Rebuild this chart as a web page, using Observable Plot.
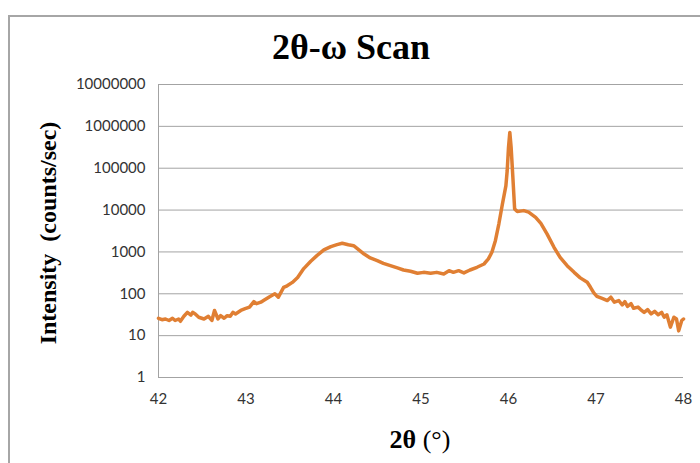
<!DOCTYPE html>
<html>
<head>
<meta charset="utf-8">
<script src="https://cdn.jsdelivr.net/npm/d3@7"></script>
<script src="https://cdn.jsdelivr.net/npm/@observablehq/plot@0.6"></script>
<style>
  html, body { margin: 0; padding: 0; background: #fff; }
  #wrap { position: relative; width: 700px; height: 463px; overflow: hidden; background: #fff; }
  #frame { position: absolute; left: 8px; top: 15px; width: 740px; height: 500px; border: 2px solid #a6a6a6; box-sizing: border-box; }
  #chart { position: absolute; left: 0; top: 0; }
  .serif { font-family: "Liberation Serif", "Times New Roman", serif; color: #000; white-space: nowrap; position: absolute; line-height: 1; }
  #title { font-size: 36px; font-weight: bold; left: 351px; top: 29px; transform: translateX(-50%); }
  #ylab { font-size: 24px; font-weight: bold; left: 48px; top: 233px; transform: translate(-50%, -50%) rotate(-90deg); }
  #xlab { font-size: 26px; left: 420px; top: 440px; transform: translate(-50%, -50%); }
</style>
</head>
<body>
<div id="wrap">
  <div id="frame"></div>
  <div id="chart"></div>
  <div id="title" class="serif">2θ-ω Scan</div>
  <div id="ylab" class="serif">Intensity&nbsp;&nbsp;(counts/sec)</div>
  <div id="xlab" class="serif"><b>2θ</b> (°)</div>
</div>
<script>
const twoTheta = [
  42.00, 42.04, 42.08, 42.12, 42.16, 42.19, 42.23, 42.25, 42.29, 42.33,
  42.37, 42.39, 42.42, 42.46, 42.52, 42.57, 42.61, 42.64, 42.68, 42.71,
  42.75, 42.785, 42.82, 42.85, 42.88, 42.94, 42.99, 43.04, 43.09, 43.12,
  43.17, 43.20, 43.27, 43.33, 43.37, 43.43, 43.47, 43.53, 43.59, 43.66,
  43.74, 43.81, 43.89, 43.97, 44.04, 44.10, 44.17, 44.23, 44.29, 44.35,
  44.42, 44.50, 44.57, 44.65, 44.73, 44.80, 44.88, 44.96, 45.03, 45.11,
  45.18, 45.26, 45.32, 45.37, 45.43, 45.49, 45.56, 45.64, 45.72, 45.77,
  45.81, 45.85, 45.89, 45.93, 45.97, 45.985, 46.00, 46.015, 46.03, 46.05,
  46.07, 46.10, 46.175, 46.23, 46.31, 46.37, 46.44, 46.52, 46.59, 46.67,
  46.75, 46.82, 46.90, 46.937, 46.975, 47.01, 47.07, 47.13, 47.17, 47.21,
  47.26, 47.30, 47.33, 47.36, 47.40, 47.43, 47.48, 47.51, 47.55, 47.59,
  47.63, 47.67, 47.71, 47.75, 47.78, 47.81, 47.85, 47.89, 47.92, 47.945,
  47.98, 48.00
];
const intensity = [
  26, 24, 25, 23, 26, 23, 25, 22, 29, 36,
  31, 36, 33, 27.5, 25, 29, 23, 40, 25, 30,
  26, 30, 29, 36, 33, 40, 44, 48, 65, 58,
  63, 69, 85, 100, 83, 142, 155, 187, 245, 400,
  600, 815, 1120, 1340, 1490, 1610, 1490, 1410, 1120, 890,
  720, 620, 535, 470, 415, 370, 345, 310, 325, 310,
  325, 298, 356, 325, 356, 315, 370, 430, 515, 680,
  980, 1860, 4700, 13800, 38000, 87000, 315000, 715000, 315000, 60000,
  10600, 9300, 9700, 8900, 6700, 4800, 2700, 1290, 740, 470,
  325, 240, 188, 143, 105, 87, 78, 69, 83, 63,
  69, 54, 65, 50, 58, 45, 48, 42, 36, 42,
  33, 38, 31.5, 36, 27.5, 31.5, 16, 27.5, 25, 13,
  23, 25
];
const xTicks = [42, 43, 44, 45, 46, 47, 48];
const yTicks = [1, 10, 100, 1000, 10000, 100000, 1000000, 10000000];

const data = twoTheta.map((x, i) => ({x, y: intensity[i]}));

const chart = Plot.plot({
  width: 700,
  height: 463,
  marginLeft: 158,
  marginRight: 17,
  marginTop: 84,
  marginBottom: 86,
  style: { fontFamily: "Lato, 'Open Sans', sans-serif", fontSize: "15px", color: "#333", background: "transparent", overflow: "visible" },
  x: { domain: [42, 48] },
  y: { type: "log", domain: [1, 10000000] },
  marks: [
    Plot.gridY(yTicks, { stroke: "#a3a3a3", strokeOpacity: 1 }),
    Plot.ruleX([42], { stroke: "#a3a3a3" }),
    Plot.ruleY([1], { stroke: "#a3a3a3" }),
    Plot.axisY(yTicks, { tickSize: 0, tickPadding: 13, tickFormat: d => String(d), label: null, fontSize: 15 }),
    Plot.axisX(xTicks, { tickSize: 0, tickPadding: 16, tickFormat: d => String(d), label: null, fontSize: 15 }),
    Plot.line(data, { x: "x", y: "y", stroke: "#e07f33", strokeWidth: 3.5, strokeLinejoin: "round", strokeLinecap: "round" })
  ]
});
document.getElementById("chart").appendChild(chart);
</script>
</body>
</html>
